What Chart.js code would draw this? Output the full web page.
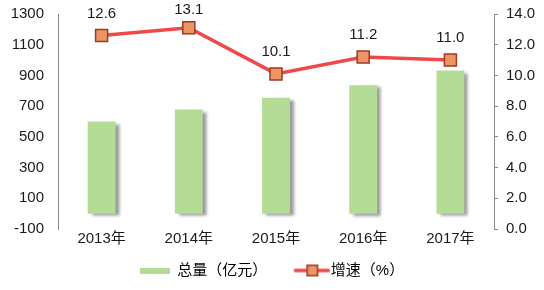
<!DOCTYPE html>
<html>
<head>
<meta charset="utf-8">
<script src="https://cdn.jsdelivr.net/npm/chart.js@4"></script>
<style>
html,body{margin:0;padding:0;background:#fff;}
#wrap{width:544px;height:290px;}
</style>
</head>
<body>
<div id="wrap"><canvas id="c" width="544" height="290"></canvas></div>
<script>
const categories = ['2013年','2014年','2015年','2016年','2017年'];
const totalValues = [600, 678, 755, 836, 932];
const growthValues = [12.6, 13.1, 10.1, 11.2, 11.0];
const seriesNames = ['总量（亿元）', '增速（%）'];

const FONT = "'Liberation Sans','Noto Sans CJK SC',sans-serif";
const BAR_COLOR = '#b4dc96';
const LINE_COLOR = '#ef4848';
const MARK_FILL = '#ee9566';
const MARK_BORDER = '#9c3a24';

function makeBarIcon(){
  const c = document.createElement('canvas'); c.width = 30; c.height = 6;
  const x = c.getContext('2d'); x.fillStyle = BAR_COLOR; x.fillRect(0,0,30,6); return c;
}
function makeLineIcon(){
  const c = document.createElement('canvas'); c.width = 44; c.height = 14;
  const x = c.getContext('2d');
  x.strokeStyle = LINE_COLOR; x.lineWidth = 3.5; x.lineCap='round';
  x.beginPath(); x.moveTo(9,7); x.lineTo(42,7); x.stroke();
  x.fillStyle = MARK_FILL; x.strokeStyle = MARK_BORDER; x.lineWidth = 1.5;
  x.fillRect(20,1,12,12); x.strokeRect(20.75,1.75,10.5,10.5);
  return c;
}

const shadowPlugin = {
  id:'barShadow',
  beforeDatasetDraw(chart,args){
    if(args.index===0){const ctx=chart.ctx;ctx.save();ctx.shadowColor='rgba(0,0,0,0.4)';ctx.shadowOffsetX=4;ctx.shadowOffsetY=2;ctx.shadowBlur=3;}
  },
  afterDatasetDraw(chart,args){ if(args.index===0){chart.ctx.restore();} }
};
const labelPlugin = {
  id:'pointLabels',
  afterDatasetsDraw(chart){
    const meta = chart.getDatasetMeta(1);
    const ctx = chart.ctx; ctx.save();
    ctx.font = '15px '+FONT; ctx.fillStyle='#1a1a1a'; ctx.textAlign='center'; ctx.textBaseline='middle';
    meta.data.forEach((pt,i)=>{ ctx.fillText(growthValues[i].toFixed(1), pt.x, Math.max(pt.y-22, 10)); });
    ctx.restore();
  }
};

new Chart(document.getElementById('c'), {
  data: {
    labels: categories,
    datasets: [
      { type:'bar', label: seriesNames[0], data: totalValues, backgroundColor: BAR_COLOR, yAxisID:'y', order:2,
        barPercentage:0.32, categoryPercentage:1.0 },
      { type:'line', label: seriesNames[1], data: growthValues, yAxisID:'y1', order:1,
        borderColor: LINE_COLOR, borderWidth:3.5, tension:0,
        pointStyle:'rect', pointRadius:8.5, pointBackgroundColor: MARK_FILL, pointBorderColor: MARK_BORDER, pointBorderWidth:1.5 }
    ]
  },
  options: {
    responsive:false, animation:false, devicePixelRatio:1,
    layout:{ padding:{ top:14, left:0, right:0, bottom:2 } },
    plugins:{
      tooltip:{enabled:false},
      legend:{
        position:'bottom',
        labels:{
          font:{size:15, family:FONT}, color:'#1a1a1a', usePointStyle:true, pointStyleWidth:30, padding:26,
          generateLabels(){
            return [
              {text:seriesNames[0], pointStyle:makeBarIcon(), fillStyle:BAR_COLOR, strokeStyle:BAR_COLOR, lineWidth:0, datasetIndex:0, hidden:false},
              {text:seriesNames[1], pointStyle:makeLineIcon(), fillStyle:MARK_FILL, strokeStyle:LINE_COLOR, lineWidth:0, datasetIndex:1, hidden:false}
            ];
          }
        }
      }
    },
    scales:{
      x:{
        grid:{display:false, drawTicks:false}, border:{display:false},
        ticks:{font:{size:15, family:FONT}, color:'#1a1a1a', padding:1},
        afterFit(s){ s.height = 8; s._computeLabelArea = () => undefined; }
      },
      y:{
        position:'left', min:-100, max:1300,
        ticks:{stepSize:200, font:{size:15, family:FONT}, color:'#1a1a1a', padding:14, callback:(v)=>String(v)},
        grid:{ drawTicks:false, color:(c)=> c.tick && c.tick.value===0 ? '#8c8c8c' : 'rgba(0,0,0,0)', lineWidth:1 },
        border:{display:true, color:'#8c8c8c'},
        afterFit(s){ s.width = 58; s.paddingTop = 0; s.paddingBottom = 0; }
      },
      y1:{
        position:'right', min:0, max:14,
        ticks:{stepSize:2, font:{size:15, family:FONT}, color:'#1a1a1a', padding:8, callback:(v)=>Number(v).toFixed(1)},
        grid:{ drawOnChartArea:false, drawTicks:true, tickLength:4, color:'#8c8c8c' },
        border:{display:true, color:'#8c8c8c'},
        afterFit(s){ s.width = 50; s.paddingTop = 0; s.paddingBottom = 0; }
      }
    }
  },
  plugins:[shadowPlugin, labelPlugin]
});
</script>
</body>
</html>
